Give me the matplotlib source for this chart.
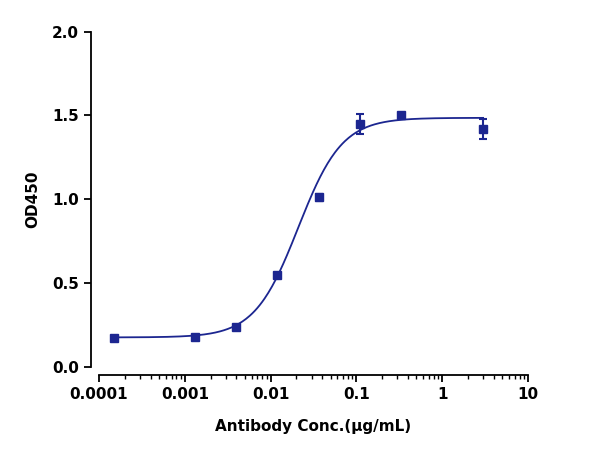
import numpy as np
import matplotlib
matplotlib.use("Agg")
import matplotlib.pyplot as plt

conc = [0.00015, 0.0013, 0.004, 0.012, 0.037, 0.11, 0.33, 3.0]
od450 = [0.17, 0.18, 0.24, 0.55, 1.01, 1.45, 1.50, 1.42]
err = [0.01, 0.01, 0.01, 0.01, 0.02, 0.06, 0.01, 0.06]

# 4PL fit parameters
bottom, top, ec50, hill = 0.175, 1.485, 0.021, 1.7

color = "#1c2690"
fig = plt.figure(figsize=(6, 4.5), dpi=100)
ax = fig.add_axes([0.165, 0.185, 0.715, 0.745])

xs = np.logspace(np.log10(0.00015), np.log10(3.0), 300)
ys = bottom + (top - bottom) / (1 + (ec50 / xs) ** hill)
ax.plot(xs, ys, color=color, lw=1.3)
ax.errorbar(conc, od450, yerr=err, fmt="s", color=color, ms=6, capsize=3, elinewidth=1.5, capthick=1.5)

ax.set_xscale("log")
ax.set_xlim(0.0001, 10)
ax.set_ylim(0, 2.0)
ax.set_xticks([0.0001, 0.001, 0.01, 0.1, 1, 10])
ax.set_xticklabels(["0.0001", "0.001", "0.01", "0.1", "1", "10"])
ax.set_yticks([0, 0.5, 1.0, 1.5, 2.0])
ax.set_yticklabels(["0.0", "0.5", "1.0", "1.5", "2.0"])
for s in ["top", "right"]:
    ax.spines[s].set_visible(False)
for s in ["left", "bottom"]:
    ax.spines[s].set_linewidth(1.3)
    ax.spines[s].set_position(("outward", 6))
ax.tick_params(width=1.3, length=5, labelsize=11)
ax.tick_params(which="minor", width=1, length=3)
for lbl in ax.get_xticklabels() + ax.get_yticklabels():
    lbl.set_fontweight("bold")
ax.set_xlabel("Antibody Conc.(\u03bcg/mL)", fontsize=11, fontweight="bold", labelpad=12)
ax.set_ylabel("OD450", fontsize=11, fontweight="bold", labelpad=8)

fig.savefig("out.png")
